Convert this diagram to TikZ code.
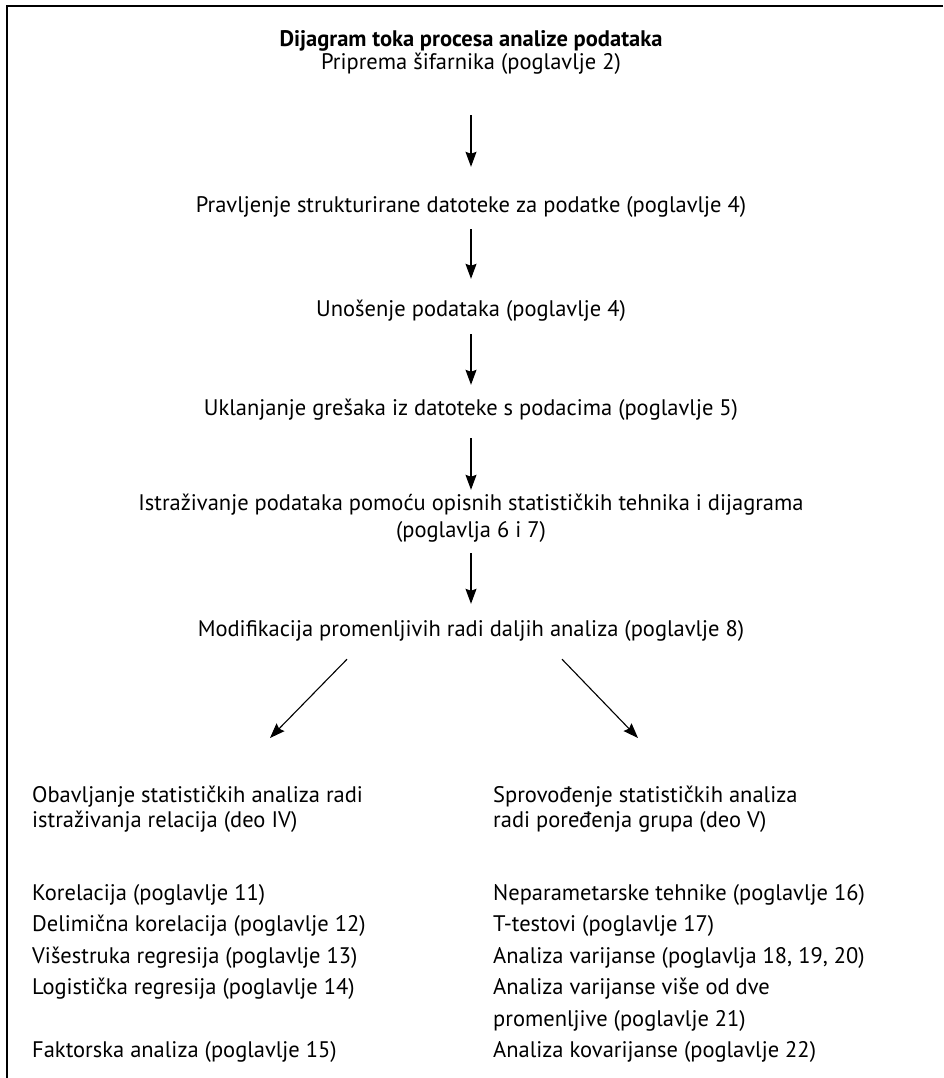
\documentclass[tikz,border=0pt]{standalone}
\usepackage{fontspec}
\setmainfont{PT Sans}
\usetikzlibrary{arrows.meta}

\tikzset{
  lbl/.style={inner sep=0pt, text height=15pt, text depth=5pt, font=\fontsize{22.5}{25}\selectfont},
  flow/.style={line width=1.1pt, -{Stealth[length=15pt,width=11pt,inset=2pt]}},
}

\begin{document}
\begin{tikzpicture}[x=1pt,y=-1pt]
\useasboundingbox (0,0) rectangle (943,1078);
% frame, top and left side only
\draw[line width=1.5pt] (943,6) -- (7,6) -- (7,1078);

% main chain
\node[lbl,font=\fontsize{22.5}{25}\selectfont\bfseries] (title) at (471,42) {Dijagram toka procesa analize podataka};
\node[lbl] (prip) at (471,65) {Priprema šifarnika (poglavlje 2)};
\node[lbl] (prav) at (471,207) {Pravljenje strukturirane datoteke za podatke (poglavlje 4)};
\node[lbl] (unos) at (471,311) {Unošenje podataka (poglavlje 4)};
\node[lbl] (ukl) at (471,410) {Uklanjanje grešaka iz datoteke s podacima (poglavlje 5)};
\node[lbl] (istr) at (471,505) {Istraživanje podataka pomoću opisnih statističkih tehnika i dijagrama};
\node[lbl] (istrb) at (471,532) {(poglavlja 6 i 7)};
\node[lbl] (modif) at (471,631) {Modifikacija promenljivih radi daljih analiza (poglavlje 8)};

\draw[flow, shorten <=40pt, shorten >=30pt] (prip) -- (prav);
\draw[flow, shorten <=12pt, shorten >=22pt] (prav) -- (unos);
\draw[flow, shorten <=13pt, shorten >=15pt] (unos) -- (ukl);
\draw[flow, shorten <=18pt, shorten >=5pt] (ukl) -- (istr);
\draw[flow, shorten <=11pt, shorten >=17pt] (istrb) -- (modif);

% split into the two branches
\coordinate (ltip) at (270,738);
\coordinate (rtip) at (638,738);
\draw[flow] ([shift={(-124,18)}]modif.south) -- (ltip);
\draw[flow] ([shift={(91,18)}]modif.south) -- (rtip);

% left branch
\node[lbl,anchor=west] (rel) at (32,797) {Obavljanje statističkih analiza radi};
\node[lbl,anchor=west] (relb) at (32,822) {istraživanja relacija (deo IV)};
\node[lbl,anchor=west] (kor) at (32,895) {Korelacija (poglavlje 11)};
\node[lbl,anchor=west] (dkor) at (32,926) {Delimična korelacija (poglavlje 12)};
\node[lbl,anchor=west] (vreg) at (32,958) {Višestruka regresija (poglavlje 13)};
\node[lbl,anchor=west] (lreg) at (32,989) {Logistička regresija (poglavlje 14)};
\node[lbl,anchor=west] (fakt) at (32,1052) {Faktorska analiza (poglavlje 15)};

% right branch
\node[lbl,anchor=west] (grp) at (493,797) {Sprovođenje statističkih analiza};
\node[lbl,anchor=west] (grpb) at (493,822) {radi poređenja grupa (deo V)};
\node[lbl,anchor=west] (npar) at (493,895) {Neparametarske tehnike (poglavlje 16)};
\node[lbl,anchor=west] (ttest) at (493,926) {T-testovi (poglavlje 17)};
\node[lbl,anchor=west] (anova) at (493,958) {Analiza varijanse (poglavlja 18, 19, 20)};
\node[lbl,anchor=west] (mano) at (493,989) {Analiza varijanse više od dve};
\node[lbl,anchor=west] (manob) at (493,1021) {promenljive (poglavlje 21)};
\node[lbl,anchor=west] (anco) at (493,1052) {Analiza kovarijanse (poglavlje 22)};
\end{tikzpicture}
\end{document}
